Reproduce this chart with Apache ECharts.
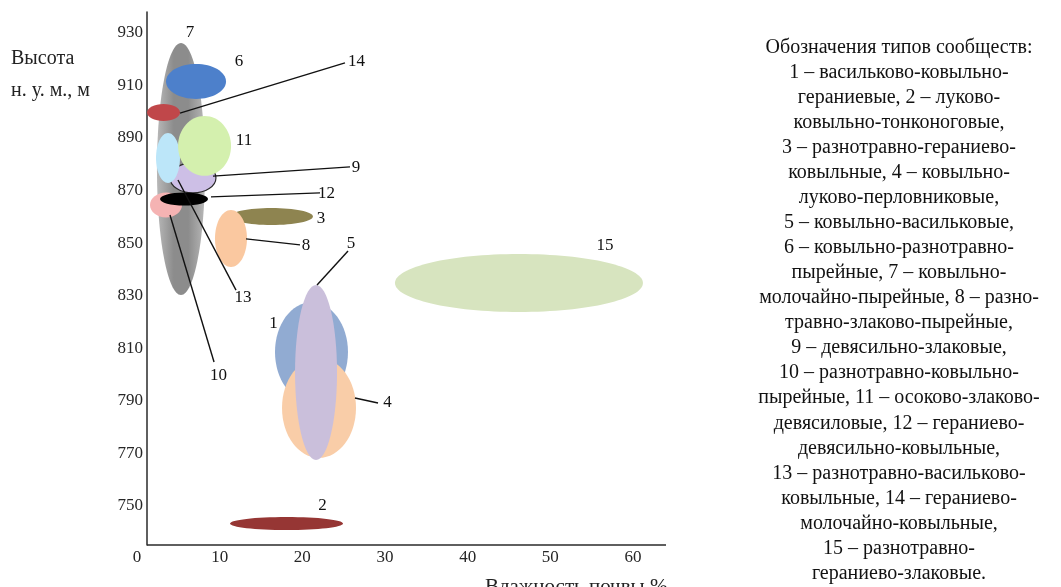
<!DOCTYPE html>
<html><head><meta charset="utf-8">
<script src="https://cdn.jsdelivr.net/npm/echarts@6/dist/echarts.min.js"></script>
<style>html,body{margin:0;padding:0;background:#fff}#c{width:1061px;height:587px}</style>
</head><body><div id="c"></div>
<script>
// Community types 1..15: ellipse centre (soil moisture %, altitude m) and extent
const communities = ['1','2','3','4','5','6','7','8','9','10','11','12','13','14','15'];
const moistureCenter = [21.11, 18.09, 16.27, 22.02, 21.66, 7.14, 5.32, 11.37, 6.77, 3.51, 8.17, 5.69, 3.75, 3.21, 46.21];
const altitudeCenter = [808.5, 743.2, 860.1, 787.2, 800.7, 911.5, 878.2, 851.7, 874.8, 864.5, 887.0, 866.8, 882.4, 899.7, 834.8];
const moistureSpan   = [8.83, 13.67, 10.04, 8.95, 5.08, 7.26, 5.81, 3.87, 5.56, 3.87, 6.41, 5.81, 2.90, 3.99, 30.0];
const altitudeSpan   = [38, 5, 6.5, 38, 66.6, 13.3, 96, 21.7, 11.4, 9.5, 22.8, 5.0, 19, 6.5, 22.1];
// number label positions (data units)
const labelMoisture = [16.51, 22.44, 22.26, 30.31, 25.89, 12.34, 6.41, 20.45, 26.49, 9.86, 12.94, 22.93, 12.82, 26.55, 56.62];
const labelAltitude = [819.2, 749.9, 859.2, 789.3, 849.7, 919.3, 930.0, 848.9, 878.8, 799.4, 888.9, 868.7, 829.3, 919.3, 849.1];
// leader lines: community, from (x,y) to (x,y)
const leaderIds = ['14','9','12','8','5','13','10','4'];
const leaderX1 = [5.20, 9.19, 8.95, 13.19, 21.78, 4.96, 3.99, 26.37];
const leaderY1 = [899.5, 875.5, 867.6, 851.6, 834.0, 874.0, 860.7, 791.0];
const leaderX2 = [25.16, 25.77, 22.14, 19.72, 25.53, 11.98, 9.32, 29.16];
const leaderY2 = [918.6, 879.0, 869.1, 849.3, 847.0, 832.1, 804.7, 789.1];
// axis tick labels
const xTicks = [0, 10, 20, 30, 40, 50, 60];
const yTicks = [750, 770, 790, 810, 830, 850, 870, 890, 910, 930];

const legendLines = [
 'Обозначения типов сообществ:',
 '1 – васильково-ковыльно-',
 'гераниевые, 2 – луково-',
 'ковыльно-тонконоговые,',
 '3 – разнотравно-гераниево-',
 'ковыльные, 4 – ковыльно-',
 'луково-перловниковые,',
 '5 – ковыльно-васильковые,',
 '6 – ковыльно-разнотравно-',
 'пырейные, 7 – ковыльно-',
 'молочайно-пырейные, 8 – разно-',
 'травно-злаково-пырейные,',
 '9 – девясильно-злаковые,',
 '10 – разнотравно-ковыльно-',
 'пырейные, 11 – осоково-злаково-',
 'девясиловые, 12 – гераниево-',
 'девясильно-ковыльные,',
 '13 – разнотравно-васильково-',
 'ковыльные, 14 – гераниево-',
 'молочайно-ковыльные,',
 '15 – разнотравно-',
 'гераниево-злаковые.'
];

// styles (per community index)
function hg(mid, edge){
  return {type:'linear', x:0, y:0, x2:1, y2:0, colorStops:[
    {offset:0,color:edge},{offset:0.35,color:mid},{offset:0.65,color:mid},{offset:1,color:edge}]};
}
const fills = [
  '#91ABD2',            //1
  '#963634',            //2
  '#8E8450',            //3
  '#F9CDA8',            //4
  '#CABFDB',            //5
  '#4D80CB',            //6
  hg('#8C8C8C','#B8B8B8'), //7
  '#FAC8A0',            //8
  '#CDBFE6',            //9
  '#F5B3B3',            //10
  '#D4F0AE',            //11
  '#000000',            //12
  '#BCE6F9',            //13
  '#C0474A',            //14
  '#D7E4BF'             //15
];
const drawOrder = [7, 6, 14, 9, 13, 11, 10, 12, 3, 8, 1, 4, 5, 2, 15];

const SERIF = '"Liberation Serif", "Times New Roman", serif';

const ellipseData = drawOrder.map(n => ({
  name: communities[n-1],
  value: [moistureCenter[n-1], altitudeCenter[n-1], moistureSpan[n-1], altitudeSpan[n-1], n-1]
}));
const labelData = communities.map((c,i) => ({name:c, value:[labelMoisture[i], labelAltitude[i]]}));
const leaderData = leaderIds.map((c,i) => ({name:c, value:[leaderX1[i], leaderY1[i], leaderX2[i], leaderY2[i]]}));

const chart = echarts.init(document.getElementById('c'), null, {renderer:'canvas'});
chart.setOption({
  animation:false,
  backgroundColor:'#ffffff',
  grid:{left:137, top:12, width:529, height:533, containLabel:false},
  xAxis:{
    type:'value', min:0, max:64, interval:10,
    axisLine:{show:false},
    axisTick:{show:false}, splitLine:{show:false},
    axisLabel:{margin:4, color:'#262626', fontFamily:SERIF, fontSize:17,
      formatter:v => xTicks.indexOf(v) >= 0 ? String(v) : ''}
  },
  yAxis:{
    type:'value', min:735, max:938, interval:5, offset:-10,
    axisLine:{show:true, onZero:false, lineStyle:{color:'#2a2a2a', width:1.5}},
    axisTick:{show:false}, splitLine:{show:false},
    axisLabel:{margin:4, color:'#262626', fontFamily:SERIF, fontSize:17,
      formatter:v => yTicks.indexOf(v) >= 0 ? String(v) : ''}
  },
  series:[
    {
      type:'custom', name:'ellipses', coordinateSystem:'cartesian2d', z:2,
      data: ellipseData,
      renderItem:(params, api) => {
        const c = api.coord([api.value(0), api.value(1)]);
        const s = api.size([api.value(2), api.value(3)]);
        const idx = api.value(4);
        const st = {fill: fills[idx]};
        if (idx+1 === 9) { st.stroke = '#2a2a2a'; st.lineWidth = 1.2; }
        return {type:'ellipse', shape:{cx:c[0], cy:c[1], rx:s[0]/2, ry:s[1]/2}, style:st};
      }
    },
    {
      type:'custom', name:'leaders', coordinateSystem:'cartesian2d', z:3,
      data: leaderData,
      renderItem:(params, api) => {
        const a = api.coord([api.value(0), api.value(1)]);
        const b = api.coord([api.value(2), api.value(3)]);
        return {type:'line', shape:{x1:a[0], y1:a[1], x2:b[0], y2:b[1]}, style:{stroke:'#111', lineWidth:1.4}};
      }
    },
    {
      type:'custom', name:'labels', coordinateSystem:'cartesian2d', z:4,
      data: labelData,
      renderItem:(params, api) => {
        const p = api.coord([api.value(0), api.value(1)]);
        return {type:'text', x:p[0], y:p[1], style:{text: labelData[params.dataIndex].name, fill:'#111',
          font:'17px ' + SERIF, align:'center', verticalAlign:'middle'}};
      }
    }
  ],
  graphic:[
    {type:'line', shape:{x1:147, y1:545, x2:666, y2:545}, style:{stroke:'#2a2a2a', lineWidth:1.5}, z:5},
    {type:'text', left:11, top:49, style:{text:'Высота', fill:'#222', font:'20px ' + SERIF}},
    {type:'text', left:11, top:81, style:{text:'н. у. м., м', fill:'#222', font:'20px ' + SERIF}},
    {type:'text', left:485, top:577, style:{text:'Влажность почвы %', fill:'#222', font:'21px ' + SERIF}},
    {type:'text', x:899, y:35, style:{text: legendLines.join('\n'), fill:'#111', font:'20px ' + SERIF,
      lineHeight:25.05, align:'center', verticalAlign:'top'}}
  ]
});
</script>
</body></html>
